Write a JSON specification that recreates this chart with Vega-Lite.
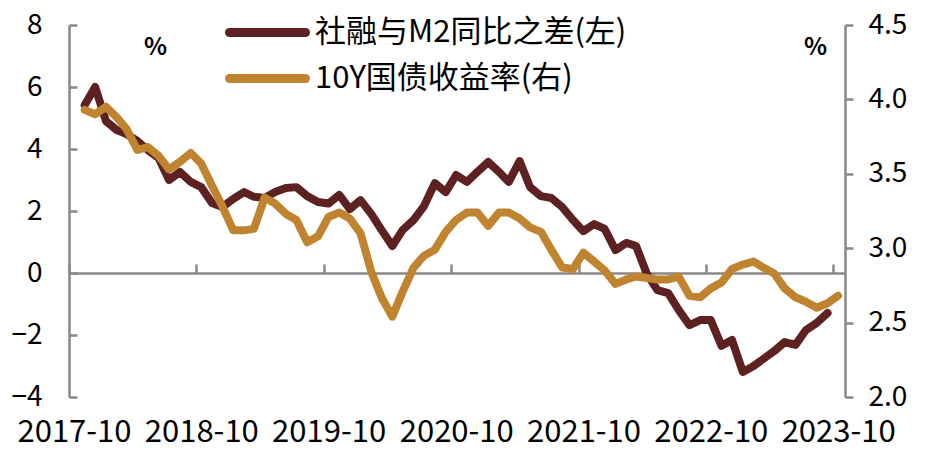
{
  "$schema": "https://vega.github.io/schema/vega-lite/v6.json",
  "width": 776,
  "height": 372,
  "autosize": {"type": "none"},
  "padding": {"left": 69, "top": 25, "right": 91, "bottom": 62},
  "background": "white",
  "config": {"view": {"stroke": null}, "font": "Noto Sans CJK SC"},
  "data": {"values": [
    {"d": "2017/11/15", "a": 5.42, "b": 3.93},
    {"d": "2017/12/15", "a": 6.0, "b": 3.90},
    {"d": "2018/01/15", "a": 4.90, "b": 3.95},
    {"d": "2018/02/15", "a": 4.61, "b": 3.88},
    {"d": "2018/03/15", "a": 4.48, "b": 3.80},
    {"d": "2018/04/15", "a": 4.26, "b": 3.66},
    {"d": "2018/05/15", "a": 3.97, "b": 3.68},
    {"d": "2018/06/15", "a": 3.71, "b": 3.62},
    {"d": "2018/07/15", "a": 3.0, "b": 3.53},
    {"d": "2018/08/15", "a": 3.26, "b": 3.58},
    {"d": "2018/09/15", "a": 2.94, "b": 3.64},
    {"d": "2018/10/15", "a": 2.77, "b": 3.57},
    {"d": "2018/11/15", "a": 2.26, "b": 3.42},
    {"d": "2018/12/15", "a": 2.13, "b": 3.28},
    {"d": "2019/01/15", "a": 2.39, "b": 3.12},
    {"d": "2019/02/15", "a": 2.61, "b": 3.12},
    {"d": "2019/03/15", "a": 2.46, "b": 3.13},
    {"d": "2019/04/15", "a": 2.42, "b": 3.34},
    {"d": "2019/05/15", "a": 2.61, "b": 3.30},
    {"d": "2019/06/15", "a": 2.74, "b": 3.23},
    {"d": "2019/07/15", "a": 2.77, "b": 3.19},
    {"d": "2019/08/15", "a": 2.48, "b": 3.04},
    {"d": "2019/09/15", "a": 2.29, "b": 3.08},
    {"d": "2019/10/15", "a": 2.24, "b": 3.21},
    {"d": "2019/11/15", "a": 2.52, "b": 3.24},
    {"d": "2019/12/15", "a": 2.06, "b": 3.20},
    {"d": "2020/01/15", "a": 2.35, "b": 3.10},
    {"d": "2020/02/15", "a": 1.90, "b": 2.84},
    {"d": "2020/03/15", "a": 1.39, "b": 2.67},
    {"d": "2020/04/15", "a": 0.87, "b": 2.54},
    {"d": "2020/05/15", "a": 1.39, "b": 2.71},
    {"d": "2020/06/15", "a": 1.71, "b": 2.87},
    {"d": "2020/07/15", "a": 2.16, "b": 2.95},
    {"d": "2020/08/15", "a": 2.90, "b": 2.99},
    {"d": "2020/09/15", "a": 2.61, "b": 3.11},
    {"d": "2020/10/15", "a": 3.16, "b": 3.19},
    {"d": "2020/11/15", "a": 2.94, "b": 3.24},
    {"d": "2020/12/15", "a": 3.26, "b": 3.24},
    {"d": "2021/01/15", "a": 3.58, "b": 3.15},
    {"d": "2021/02/15", "a": 3.26, "b": 3.24},
    {"d": "2021/03/15", "a": 2.94, "b": 3.24},
    {"d": "2021/04/15", "a": 3.61, "b": 3.20},
    {"d": "2021/05/15", "a": 2.77, "b": 3.14},
    {"d": "2021/06/15", "a": 2.48, "b": 3.11},
    {"d": "2021/07/15", "a": 2.42, "b": 2.99},
    {"d": "2021/08/15", "a": 2.13, "b": 2.87},
    {"d": "2021/09/15", "a": 1.71, "b": 2.86},
    {"d": "2021/10/15", "a": 1.35, "b": 2.97},
    {"d": "2021/11/15", "a": 1.58, "b": 2.91},
    {"d": "2021/12/15", "a": 1.42, "b": 2.85},
    {"d": "2022/01/15", "a": 0.74, "b": 2.76},
    {"d": "2022/02/15", "a": 0.97, "b": 2.79},
    {"d": "2022/03/15", "a": 0.87, "b": 2.81},
    {"d": "2022/04/15", "a": -0.03, "b": 2.80},
    {"d": "2022/05/15", "a": -0.55, "b": 2.79},
    {"d": "2022/06/15", "a": -0.65, "b": 2.79},
    {"d": "2022/07/15", "a": -1.19, "b": 2.81},
    {"d": "2022/08/15", "a": -1.68, "b": 2.68},
    {"d": "2022/09/15", "a": -1.52, "b": 2.67},
    {"d": "2022/10/15", "a": -1.52, "b": 2.73},
    {"d": "2022/11/15", "a": -2.35, "b": 2.77},
    {"d": "2022/12/15", "a": -2.16, "b": 2.86},
    {"d": "2023/01/15", "a": -3.19, "b": 2.89},
    {"d": "2023/02/15", "a": -3.0, "b": 2.91},
    {"d": "2023/03/15", "a": -2.77, "b": 2.87},
    {"d": "2023/04/15", "a": -2.52, "b": 2.83},
    {"d": "2023/05/15", "a": -2.23, "b": 2.73},
    {"d": "2023/06/15", "a": -2.32, "b": 2.67},
    {"d": "2023/07/15", "a": -1.84, "b": 2.64},
    {"d": "2023/08/15", "a": -1.61, "b": 2.60},
    {"d": "2023/09/15", "a": -1.29, "b": 2.63},
    {"d": "2023/10/15", "a": null, "b": 2.68}
  ]},
  "encoding": {
    "x": {
      "field": "d",
      "type": "temporal",
      "scale": {"domain": [{"year": 2017, "month": 10, "date": 1}, {"year": 2023, "month": 11, "date": 4}]},
      "axis": {
        "orient": "bottom",
        "offset": -124,
        "values": [
          {"year": 2017, "month": 10, "date": 1},
          {"year": 2018, "month": 10, "date": 1},
          {"year": 2019, "month": 10, "date": 1},
          {"year": 2020, "month": 10, "date": 1},
          {"year": 2021, "month": 10, "date": 1},
          {"year": 2022, "month": 10, "date": 1},
          {"year": 2023, "month": 10, "date": 1}
        ],
        "format": "%Y-%m",
        "title": null,
        "grid": false,
        "domainColor": "#898989",
        "domainWidth": 2.5,
        "tickColor": "#898989",
        "tickWidth": 2.5,
        "tickSize": -9,
        "labelPadding": 153,
        "labelBaseline": "top",
        "labelFontSize": 31,
        "labelColor": "black",
        "labelFlush": false,
        "labelOverlap": false,
        "labelOffset": 5
      }
    }
  },
  "layer": [
    {
      "mark": {"type": "line", "strokeWidth": 8, "strokeCap": "round", "strokeJoin": "round"},
      "encoding": {
        "y": {
          "field": "a",
          "type": "quantitative",
          "scale": {"domain": [-4, 8], "nice": false, "zero": false},
          "axis": {
            "orient": "left",
            "values": [-4, -2, 0, 2, 4, 6, 8],
            "grid": false,
            "domainColor": "#898989",
            "domainWidth": 2.5,
            "tickColor": "#898989",
            "tickWidth": 2.5,
            "tickSize": -8,
            "labelPadding": 35,
            "labelFontSize": 28,
            "labelColor": "black",
            "labelFlush": false,
            "labelOverlap": false,
            "title": "%",
            "titleAngle": 0,
            "titleX": 86,
            "titleY": 22,
            "titleAlign": "center",
            "titleBaseline": "middle",
            "titleFontSize": 24,
            "titleFontWeight": "bold",
            "titleColor": "black"
          }
        },
        "color": {
          "datum": "社融与M2同比之差(左)",
          "scale": {"domain": ["社融与M2同比之差(左)", "10Y国债收益率(右)"], "range": ["#5E2121", "#C0832F"]},
          "legend": {
            "title": null,
            "orient": "none",
            "legendX": 183,
            "legendY": -8,
            "direction": "vertical",
            "symbolType": "M-4,0H4",
            "symbolSize": 361,
            "symbolStrokeWidth": 9,
            "labelFontSize": 31,
            "labelColor": "black",
            "labelLimit": 600,
            "labelOffset": 32,
            "rowPadding": 9,
            "encode": {"symbols": {"update": {"strokeCap": {"value": "round"}}}}
          }
        }
      }
    },
    {
      "mark": {"type": "line", "strokeWidth": 8, "strokeCap": "round", "strokeJoin": "round"},
      "encoding": {
        "y": {
          "field": "b",
          "type": "quantitative",
          "scale": {"domain": [2, 4.5], "nice": false, "zero": false},
          "axis": {
            "orient": "right",
            "values": [2, 2.5, 3, 3.5, 4, 4.5],
            "format": ".1f",
            "grid": false,
            "domainColor": "#898989",
            "domainWidth": 2.5,
            "tickColor": "#898989",
            "tickWidth": 2.5,
            "tickSize": 8,
            "labelPadding": 15,
            "labelFontSize": 28,
            "labelColor": "black",
            "labelFlush": false,
            "labelOverlap": false,
            "title": "%",
            "titleAngle": 0,
            "titleX": -30,
            "titleY": 22,
            "titleAlign": "center",
            "titleBaseline": "middle",
            "titleFontSize": 24,
            "titleFontWeight": "bold",
            "titleColor": "black"
          }
        },
        "color": {"datum": "10Y国债收益率(右)"}
      }
    }
  ],
  "resolve": {"scale": {"y": "independent"}}
}
